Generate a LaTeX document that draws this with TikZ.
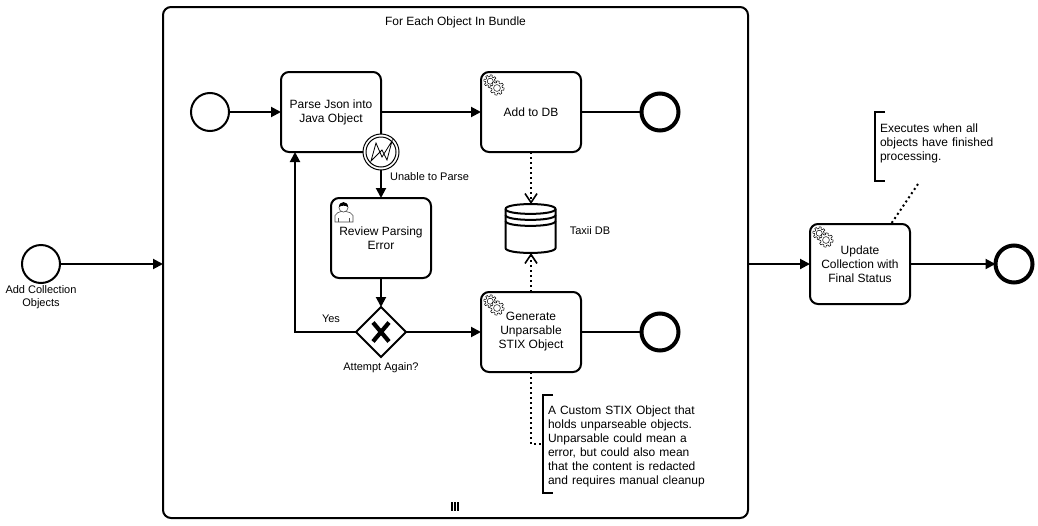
\documentclass[tikz,border=0pt]{standalone}
\usepackage{fontspec}
\setmainfont{Liberation Sans}
\usetikzlibrary{arrows.meta,shapes.geometric,calc}
\definecolor{ink}{HTML}{000000}
\newcommand{\bodyfont}{\fontsize{12}{14}\selectfont}
\newcommand{\labelfont}{\fontsize{11}{12.5}\selectfont}
\tikzset{
  x=1pt,y=-1pt,
  every node/.style={inner sep=0pt,outer sep=0pt,text=ink},
  taskbox/.style={draw=ink,fill=white,line width=2pt,rounded corners=8pt,minimum width=100pt,minimum height=80pt,align=center,font=\bodyfont},
  startev/.style={circle,draw=ink,fill=white,line width=2pt,minimum size=38pt},
  endev/.style={circle,draw=ink,fill=white,line width=4pt,minimum size=37pt},
  flow/.style={draw=ink,line width=2pt,-{Triangle[length=10pt,width=10pt]}},
  assoc/.style={draw=ink,line width=2pt,dash pattern=on 2pt off 3pt},
  dataflow/.style={assoc,-{Straight Barb[length=9pt,width=12pt,line width=1.6pt]}},
  bracket/.style={draw=ink,line width=2pt},
  lbl/.style={font=\labelfont,align=center},
  note/.style={font=\bodyfont,align=left,anchor=north west},
  gearpic/.pic={
    \foreach \cx/\cy/\rr in {-3.8/-3.8/5.5,3/3/6.2}{
      \draw[fill=white,line width=.5pt,line join=round]
        plot[samples=97,domain=0:360,variable=\t]
        ({\cx+(\rr+0.9*sign(sin(8*\t+11)))*cos(\t)},{\cy+(\rr+0.9*sign(sin(8*\t+11)))*sin(\t)}) -- cycle;
      \draw[fill=white,line width=.5pt] (\cx,\cy) circle[radius=\rr*0.55];
    }
  }
}
\begin{document}
\begin{tikzpicture}
\useasboundingbox (0,0) rectangle (1038,525);
\fill[white] (0,0) rectangle (1038,525);

% expanded sub-process
\node[draw=ink,line width=2pt,rounded corners=8pt,minimum width=585pt,minimum height=511pt,fill=white] (sub) at (455.5,262.5) {};
\node[font=\bodyfont] (subtitle) at (455.5,22) {For Each Object In Bundle};
\foreach \bx in {452,455,458}{\draw[ink,line width=1.6pt] (\bx,502) -- (\bx,511);}

% outer events
\node[startev] (start) at (41,264) {};
\node[lbl] (startlbl) at (41,297) {Add Collection\\Objects};

% inner nodes
\node[startev] (istart) at (210,112) {};
\node[taskbox] (parse) at (331,112) {\raisebox{-1pt}{Parse Json into}\\\raisebox{-1pt}{Java Object}};
\node[taskbox] (adddb) at (531,112) {Add to DB};
\node[endev] (end1) at (660,112) {};
\node[taskbox] (review) at (381,238) {Review Parsing\\Error};
\node[diamond,aspect=1,draw=ink,fill=white,line width=2pt,minimum width=50pt,minimum height=50pt] (gw) at (381,332) {};
\node[taskbox] (gen) at (531,332) {\raisebox{-2pt}{Generate}\\\raisebox{-2pt}{Unparsable}\\\raisebox{-2pt}{STIX Object}};
\node[endev] (end2) at (660,332) {};
\node[taskbox] (update) at (860,264) {Update\\Collection with\\Final Status};
\node[endev] (end3) at (1014,264) {};

% gateway X
\draw[ink,line width=4.2pt] (373,322.5) -- (389,341.5) (389,322.5) -- (373,341.5);

% error boundary event
\node[circle,draw=ink,fill=white,line width=1pt,minimum size=36pt] (err) at (381,152) {};
\node[circle,draw=ink,line width=1pt,minimum size=30pt] (errin) at (381,152) {};
\draw[ink,line width=.8pt,line join=miter] ($(err)+(-10,9)$) -- ($(err)+(-5,-9)$) -- ($(err)+(1,5)$) -- ($(err)+(11,-11)$) -- ($(err)+(6,8)$) -- ($(err)+(1,-2)$) -- cycle;

% task icons
\pic at (494,85) {gearpic};
\pic at (494,305) {gearpic};
\pic at (823,237) {gearpic};

% user icon
\draw[ink!70,fill=white,line width=.6pt] (335,222) -- (335,215.5) .. controls (336,212.5) and (339,212.5) .. (341,211.5) -- (346,211.5) .. controls (349,212.5) and (352,212.5) .. (353,215.5) -- (353,222) -- cycle;
\draw[ink!70,line width=.6pt] (338.5,222) -- (338.5,217.5) (349.5,222) -- (349.5,217.5);
\draw[ink!70,fill=white,line width=.6pt] (343.5,207.5) circle[radius=4.6];
\fill[ink] (339,207) .. controls (339,200.5) and (348,200.5) .. (348,207) .. controls (345,205.2) and (342,205.2) .. (339,207) -- cycle;

% data store
\node[minimum width=50pt,minimum height=49pt] (db) at (530.5,228.5) {};
\draw[ink,fill=white,line width=2pt] ($(db.north west)+(0,5)$) .. controls ($(db.north west)+(0,-1.6)$) and ($(db.north east)+(0,-1.6)$) .. ($(db.north east)+(0,5)$) -- ($(db.south east)+(0,-5)$) .. controls ($(db.south east)+(0,1.6)$) and ($(db.south west)+(0,1.6)$) .. ($(db.south west)+(0,-5)$) -- cycle;
\foreach \dy in {5,11,17}{
  \draw[ink,line width=2pt] ($(db.north west)+(0,\dy)$) .. controls ($(db.north west)+(0,\dy+6.5)$) and ($(db.north east)+(0,\dy+6.5)$) .. ($(db.north east)+(0,\dy)$);
}
\node[lbl] (dblbl) at (590,231) {Taxii DB};

% flows
\draw[flow] (start.east) -- (start.east -| sub.west);
\draw[flow] (sub.east |- update.west) -- (update.west);
\draw[flow] (update.east) -- (end3.west);
\draw[flow] (istart.east) -- (parse.west);
\draw[flow] (parse.east) -- (adddb.west);
\draw[draw=ink,line width=2pt] (adddb.east) -- (end1.west);
\draw[flow] (err.south) -- (review.north);
\draw[flow] (review.south) -- (gw.north);
\draw[flow] (gw.east) -- (gen.west);
\draw[draw=ink,line width=2pt] (gen.east) -- (end2.west);
\coordinate (yesc) at (295,332);
\draw[flow] (gw.west) -- (yesc) -- (yesc |- parse.south);
\node[lbl] (errlbl) at (429.5,176.5) {Unable to Parse};
\node[lbl] (yeslbl) at (331,318.5) {Yes};
\node[lbl] (gwlbl) at (381,368) {Attempt Again?};

% data associations
\draw[dataflow] (adddb.south) -- (adddb.south |- db.north);
\draw[dataflow] (gen.north) -- (gen.north |- db.south);

% annotations
\node[note,text width=120pt] (note1) at (880,123.5) {Executes when all\\objects have finished\\processing.};
\coordinate (n1top) at (875,112);
\coordinate (n1bot) at (875,181);
\draw[bracket] (885,112) -- (n1top) -- (n1bot) -- (885,181);
\coordinate (n1tail) at (918,184);
\draw[assoc] (n1tail) -- (update.north east -| 891,224);

\node[note,text width=170pt] (note2) at (548,405.5) {A Custom STIX Object that\\holds unparseable objects.\\Unparsable could mean a\\error, but could also mean\\that the content is redacted\\and requires manual cleanup};
\coordinate (n2top) at (543,395);
\coordinate (n2bot) at (543,493);
\draw[bracket] (553,395) -- (n2top) -- (n2bot) -- (553,493);
\coordinate (n2c) at (531,444);
\draw[assoc] (gen.south) -- (n2c) -- (n2c -| n2top);
\end{tikzpicture}
\end{document}
